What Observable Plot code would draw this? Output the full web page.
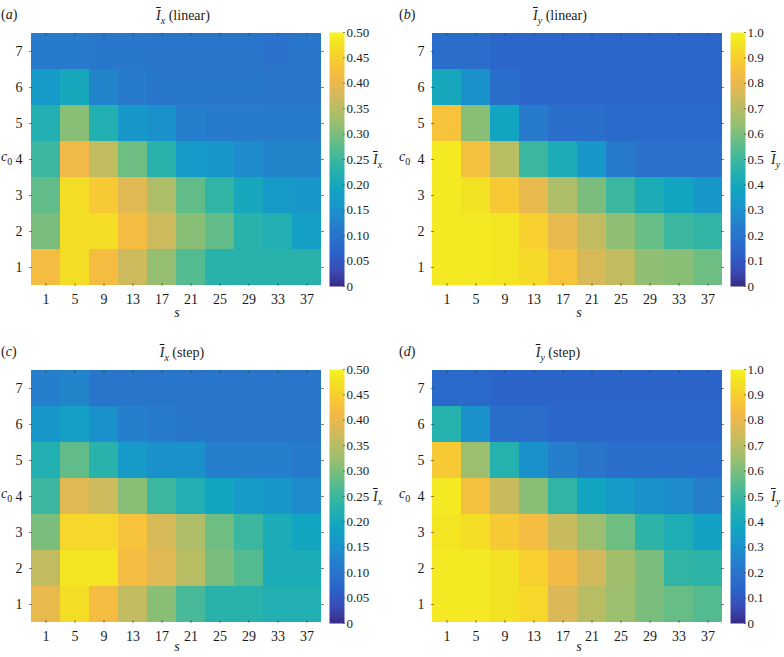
<!DOCTYPE html>
<html><head><meta charset="utf-8">
<script src="https://cdn.jsdelivr.net/npm/d3@7"></script>
<script src="https://cdn.jsdelivr.net/npm/@observablehq/plot@0.6"></script>
<style>
body{margin:0;background:#fff;}
#root{position:relative;width:784px;height:657px;font-family:"Liberation Serif","Times New Roman",serif;font-size:14px;color:#1a1a1a;overflow:hidden;}
#root svg{position:absolute;left:0;top:0;}
.lbl{position:absolute;white-space:nowrap;line-height:14px;}
.ib{font-style:italic;text-decoration:overline;}
.lbl sub{font-size:10px;vertical-align:-4px;line-height:0;}
</style></head><body><div id="root"></div>
<script>
// ---- data (rows: c0 = 1..7; columns: s values) ----
const sValues = [1,5,9,13,17,21,25,29,33,37];
const c0Values = [1,2,3,4,5,6,7];

const IxLinear = [
  [0.42,0.47,0.42,0.37,0.32,0.27,0.23,0.23,0.23,0.23],
  [0.30,0.47,0.47,0.42,0.37,0.31,0.28,0.23,0.22,0.18],
  [0.28,0.47,0.44,0.39,0.34,0.28,0.24,0.20,0.17,0.16],
  [0.25,0.41,0.36,0.29,0.23,0.17,0.16,0.14,0.13,0.13],
  [0.22,0.31,0.22,0.16,0.15,0.12,0.11,0.11,0.11,0.11],
  [0.17,0.20,0.13,0.11,0.105,0.105,0.105,0.105,0.10,0.10],
  [0.11,0.11,0.105,0.105,0.10,0.10,0.10,0.10,0.095,0.10]
];
const IyLinear = [
  [0.97,0.97,0.96,0.93,0.86,0.76,0.72,0.63,0.62,0.58],
  [0.97,0.97,0.96,0.90,0.80,0.72,0.63,0.57,0.50,0.48],
  [0.97,0.95,0.88,0.80,0.68,0.60,0.50,0.42,0.38,0.32],
  [0.97,0.85,0.70,0.50,0.42,0.32,0.22,0.19,0.19,0.19],
  [0.86,0.62,0.38,0.22,0.18,0.18,0.16,0.16,0.16,0.16],
  [0.40,0.30,0.18,0.15,0.15,0.15,0.15,0.15,0.15,0.15],
  [0.17,0.17,0.145,0.145,0.145,0.145,0.145,0.145,0.145,0.145]
];
const IxStep = [
  [0.40,0.47,0.42,0.36,0.31,0.26,0.23,0.23,0.22,0.22],
  [0.36,0.48,0.48,0.42,0.39,0.35,0.30,0.27,0.21,0.21],
  [0.30,0.46,0.46,0.43,0.38,0.34,0.29,0.25,0.21,0.19],
  [0.25,0.39,0.37,0.31,0.25,0.22,0.19,0.17,0.16,0.14],
  [0.22,0.28,0.23,0.17,0.15,0.15,0.12,0.12,0.12,0.11],
  [0.16,0.18,0.15,0.12,0.11,0.105,0.10,0.10,0.10,0.10],
  [0.12,0.13,0.10,0.10,0.10,0.10,0.10,0.10,0.10,0.10]
];
const IyStep = [
  [0.97,0.97,0.95,0.92,0.77,0.70,0.65,0.60,0.57,0.54],
  [0.97,0.97,0.95,0.90,0.83,0.75,0.66,0.60,0.48,0.47],
  [0.96,0.94,0.88,0.84,0.73,0.65,0.58,0.47,0.43,0.37],
  [0.97,0.85,0.73,0.62,0.48,0.38,0.34,0.30,0.28,0.23],
  [0.88,0.65,0.45,0.30,0.24,0.20,0.18,0.18,0.18,0.18],
  [0.45,0.30,0.18,0.17,0.15,0.15,0.15,0.15,0.15,0.15],
  [0.16,0.16,0.14,0.14,0.14,0.14,0.14,0.14,0.14,0.14]
];
const ixTicks = [0,0.05,0.10,0.15,0.20,0.25,0.30,0.35,0.40,0.45,0.50];
const iyTicks = [0,0.1,0.2,0.3,0.4,0.5,0.6,0.7,0.8,0.9,1.0];

// parula-like colormap stops (slightly muted blues, as in the reference print)
const parulaPos = [0,4,8,12,16,20,24,28,32,36,40,44,48,52,56,60,63].map(i => i/63);
const parulaCol = ["#352a87","#3a4cb5","#2b62c8","#2a72cc","#2383cc","#1896cb","#12a5c2","#22b0b0",
  "#3fb89c","#68bd86","#93be73","#b7bd64","#d8b958","#f3b946","#f8cc31","#f3e222","#f6f422"];
const parulaScale = d3.scaleLinear().domain(parulaPos).range(parulaCol).interpolate(d3.interpolateRgb).clamp(true);
const parula = t => parulaScale(t);

const W = 784, H = 657;
const root = document.getElementById("root");
const font = {background:"transparent", fontFamily:'"Liberation Serif","Times New Roman",serif', fontSize:"14px", color:"#1a1a1a", overflow:"visible"};

const panels = [
  {letter:"a", name:"x", kind:"linear", values:IxLinear, max:0.5, ticks:ixTicks, fmt:d => d===0?"0":d.toFixed(2),
   left:29, right:323, top:32, bottom:286, cbL:329, cbR:344, titleX:183, letterX:1, c0X:1, cbLabelX:373, sX:177, sDy:33},
  {letter:"b", name:"y", kind:"linear", values:IyLinear, max:1, ticks:iyTicks, fmt:d => d===0?"0":d.toFixed(1),
   left:431, right:723, top:32, bottom:286, cbL:730, cbR:745, titleX:560, letterX:399, c0X:399, cbLabelX:771, sX:579, sDy:33},
  {letter:"c", name:"x", kind:"step", values:IxStep, max:0.5, ticks:ixTicks, fmt:d => d===0?"0":d.toFixed(2),
   left:29, right:323, top:369, bottom:623, cbL:329, cbR:344, titleX:182, letterX:1, c0X:1, cbLabelX:373, sX:177, sDy:30},
  {letter:"d", name:"y", kind:"step", values:IyStep, max:1, ticks:iyTicks, fmt:d => d===0?"0":d.toFixed(1),
   left:431, right:723, top:369, bottom:623, cbL:730, cbR:745, titleX:558, letterX:399, c0X:399, cbLabelX:771, sX:579, sDy:30}
];

function addText(html, x, baseline, center) {
  const d = document.createElement("div");
  d.className = "lbl";
  d.innerHTML = html;
  d.style.left = x + "px";
  d.style.top = (baseline - 12) + "px";
  if (center) d.style.transform = "translateX(-50%)";
  root.appendChild(d);
  return d;
}

for (const p of panels) {
  const table = [];
  p.values.forEach((row, i) => row.forEach((v, j) => table.push({s: sValues[j], c0: c0Values[i], v})));
  const color = {type:"linear", domain:[0, p.max], interpolate: parula, clamp:true};
  const tickStroke = "#333";

  const heat = Plot.plot({
    width:W, height:H,
    marginLeft:p.left, marginRight:W-p.right, marginTop:p.top, marginBottom:H-p.bottom,
    style:font,
    x:{type:"band", domain:sValues, padding:0},
    y:{type:"band", domain:[...c0Values].reverse(), padding:0},
    color,
    marks:[
      Plot.cell(table, {x:"s", y:"c0", fill:"v", inset:0, shapeRendering:"crispEdges"}),
      Plot.axisX({anchor:"bottom", tickSize:0, tickPadding:8, label:null}),
      Plot.axisY({anchor:"left", tickSize:0, tickPadding:7, label:null}),
      Plot.axisX({anchor:"bottom", tickSize:3, dy:-3, text:null, label:null, stroke:tickStroke, strokeWidth:0.6}),
      Plot.axisX({anchor:"top", tickSize:3, dy:3, text:null, label:null, stroke:tickStroke, strokeWidth:0.6}),
      Plot.axisY({anchor:"left", tickSize:3, dx:3, text:null, label:null, stroke:tickStroke, strokeWidth:0.6}),
      Plot.axisY({anchor:"right", tickSize:3, dx:-3, text:null, label:null, stroke:tickStroke, strokeWidth:0.6})
    ]
  });
  root.appendChild(heat);

  const bar = Plot.plot({
    width:W, height:H,
    marginLeft:p.cbL, marginRight:W-p.cbR, marginTop:p.top, marginBottom:H-p.bottom,
    style:font,
    x:{domain:[0,1], axis:null},
    y:{domain:[0,p.max], axis:null},
    color,
    marks:[
      Plot.raster({fill:(x, y) => y, x1:0, x2:1, y1:0, y2:p.max, width:1, height:256}),
      Plot.axisY(p.ticks, {anchor:"right", tickSize:0, tickPadding:2, tickFormat:p.fmt, label:null, fontSize:13}),
      Plot.axisY(p.ticks, {anchor:"right", tickSize:2, dx:-2, text:null, label:null, stroke:tickStroke, strokeWidth:0.6})
    ]
  });
  root.appendChild(bar);

  const rowMid = p.top + 3.5*(p.bottom - p.top)/7;
  addText(`(<i>${p.letter}</i>)`, p.letterX, p.top - 12, false);
  addText(`<span class="ib">I</span><sub><i>${p.name}</i></sub> (${p.kind})`, p.titleX, p.top - 11, true);
  addText(`<i>c</i><sub>0</sub>`, p.c0X, rowMid + 3, false);
  const s = addText(`<i>s</i>`, p.sX, p.bottom + p.sDy, true);
  s.style.lineHeight = "12px";
  addText(`<span class="ib">I</span><sub><i>${p.name}</i></sub>`, p.cbLabelX, rowMid + 6, false);
}
</script></body></html>
